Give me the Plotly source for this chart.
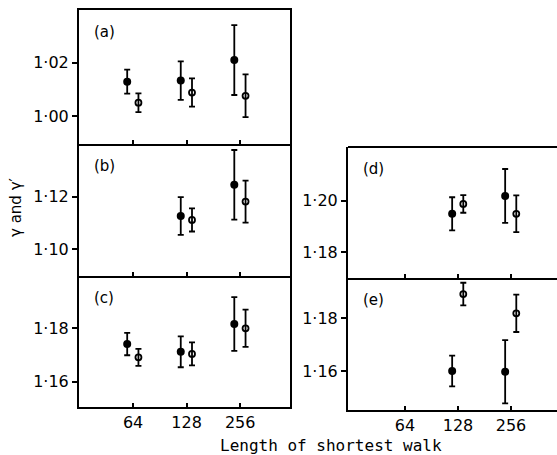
import plotly.graph_objects as go

# ---------------- data ----------------
lengths = [64, 128, 256]

# panel (a)
a_filled = [1.0129, 1.0133, 1.0210]
a_filled_err = [0.0045, 0.0072, 0.0131]
a_open = [1.0050, 1.0088, 1.0076]
a_open_err = [0.0035, 0.0053, 0.0080]

# panel (b)  (no point at 64)
b_len = [128, 256]
b_filled = [1.1126, 1.1245]
b_filled_err = [0.0072, 0.0133]
b_open = [1.1111, 1.1181]
b_open_err = [0.0044, 0.0080]

# panel (c)
c_filled = [1.1741, 1.1712, 1.1816]
c_filled_err = [0.0042, 0.0058, 0.0101]
c_open = [1.1691, 1.1704, 1.1800]
c_open_err = [0.0032, 0.0043, 0.0070]

# panel (d)
d_len = [128, 256]
d_filled = [1.1949, 1.2018]
d_filled_err = [0.0064, 0.0104]
d_open = [1.1987, 1.1949]
d_open_err = [0.0034, 0.0071]

# panel (e)
e_len = [128, 256]
e_filled = [1.1600, 1.1597]
e_filled_err = [0.0058, 0.0120]
e_open = [1.1892, 1.1819]
e_open_err = [0.0043, 0.0071]

tick_vals = [64, 128, 256]
tick_text = ["64", "128", "256"]

panels = [
    ("a", "(a)", lengths, a_filled, a_filled_err, a_open, a_open_err,
     [1.00, 1.02], ["1·00", "1·02"], [0.9895, 1.0398]),
    ("b", "(b)", b_len, b_filled, b_filled_err, b_open, b_open_err,
     [1.10, 1.12], ["1·10", "1·12"], [1.0897, 1.1401]),
    ("c", "(c)", lengths, c_filled, c_filled_err, c_open, c_open_err,
     [1.16, 1.18], ["1·16", "1·18"], [1.1505, 1.1996]),
    ("d", "(d)", d_len, d_filled, d_filled_err, d_open, d_open_err,
     [1.18, 1.20], ["1·18", "1·20"], [1.1701, 1.2207]),
    ("e", "(e)", e_len, e_filled, e_filled_err, e_open, e_open_err,
     [1.16, 1.18], ["1·16", "1·18"], [1.1452, 1.1953]),
]

W, H = 557, 455
LOG2 = 0.30103

def px_x(a, b):
    return [a / W, b / W]

def px_y(top, bottom):
    return [1 - bottom / H, 1 - top / H]

# domain x, domain y, x range (log2), x mirror (top line), y mirror (right line)
geom = {
    "a": (px_x(79, 290), px_y(10, 144), [4.99, 8.93], True, True),
    "b": (px_x(79, 290), px_y(144, 276), [4.99, 8.93], False, True),
    "c": (px_x(79, 290), px_y(276, 407), [4.99, 8.93], False, True),
    "d": (px_x(348, W), px_y(147, 278), [4.925, 8.868], False, False),
    "e": (px_x(348, W), px_y(278, 410), [4.925, 8.868], False, False),
}

FONT = "DejaVu Sans"
fig = go.Figure()
layout = {}
annotations = []
shapes = []

f_shift = 2 ** -0.11
o_shift = 2 ** 0.10

for i, (name, label, lens, fv, fe, ov, oe, yt, ytt, yr) in enumerate(panels):
    idx = "" if i == 0 else str(i + 1)
    xa, ya = "x" + idx, "y" + idx
    xdom, ydom, xr_log2, xmir, ymir = geom[name]
    fig.add_trace(go.Scatter(
        x=[v * f_shift for v in lens], y=fv, xaxis=xa, yaxis=ya, mode="markers",
        marker=dict(symbol="circle", size=8, color="black"),
        error_y=dict(type="data", array=fe, visible=True, color="black",
                     thickness=1.8, width=3),
        showlegend=False))
    fig.add_trace(go.Scatter(
        x=[v * o_shift for v in lens], y=ov, xaxis=xa, yaxis=ya, mode="markers",
        marker=dict(symbol="circle-open", size=6, color="black",
                    line=dict(width=1.8, color="black")),
        error_y=dict(type="data", array=oe, visible=True, color="black",
                     thickness=1.8, width=3),
        showlegend=False))
    bottom = name in ("c", "e")
    layout["xaxis" + idx] = dict(
        domain=xdom, anchor=ya, type="log",
        range=[xr_log2[0] * LOG2, xr_log2[1] * LOG2],
        tickvals=tick_vals, ticktext=tick_text if bottom else ["", "", ""],
        ticks="inside", ticklen=4, tickwidth=2, tickcolor="black",
        showline=True, linewidth=2, linecolor="black",
        mirror=xmir,
        showgrid=False, zeroline=False,
        tickfont=dict(family=FONT, size=16, color="black"))
    layout["yaxis" + idx] = dict(
        domain=ydom, anchor=xa, range=yr,
        tickvals=yt, ticktext=ytt,
        ticks="outside", ticklen=5, tickwidth=2, tickcolor="black",
        showline=True, linewidth=2, linecolor="black",
        mirror=ymir,
        showgrid=False, zeroline=False,
        tickfont=dict(family=FONT, size=16, color="black"))
    annotations.append(dict(
        text=label, xref="paper", yref="paper",
        x=xdom[0] + 13 / W, y=ydom[1] - 11 / H, xanchor="left", yanchor="top",
        showarrow=False, font=dict(family=FONT, size=15, color="black")))

# top border of panel (d), running off the right edge
shapes.append(dict(type="line", xref="paper", yref="paper",
                   x0=geom["d"][0][0], x1=1.05, y0=geom["d"][1][1], y1=geom["d"][1][1],
                   line=dict(color="black", width=2)))

annotations.append(dict(
    text="Length of shortest walk", xref="paper", yref="paper",
    x=331 / W, y=1 - 445 / H, xanchor="center", yanchor="middle",
    showarrow=False, font=dict(family="DejaVu Sans Mono", size=16, color="black")))
annotations.append(dict(
    text="γ and γ′", xref="paper", yref="paper",
    x=16 / W, y=1 - 207 / H, xanchor="center", yanchor="middle", textangle=-90,
    showarrow=False, font=dict(family=FONT, size=15, color="black")))

fig.update_layout(
    width=W, height=H,
    margin=dict(l=0, r=0, t=0, b=0),
    paper_bgcolor="white", plot_bgcolor="white",
    annotations=annotations, shapes=shapes,
    **layout)

fig.write_html("out.html")
